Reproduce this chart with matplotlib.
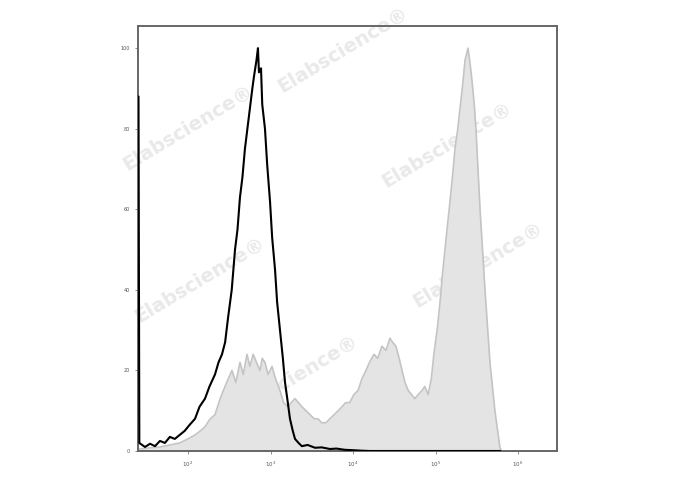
import numpy as np
import matplotlib.pyplot as plt

# histogram traces, x in log10 units (decades), y in % of max
black_x = [1.394, 1.40, 1.41, 1.479, 1.54, 1.60, 1.66, 1.72, 1.78, 1.84, 1.90, 1.96,
           2.02, 2.085, 2.14, 2.206, 2.26, 2.327, 2.37, 2.412, 2.45, 2.485, 2.53,
           2.57, 2.60, 2.63, 2.66, 2.69, 2.72, 2.75, 2.78, 2.80, 2.83, 2.848, 2.86,
           2.885, 2.90, 2.933, 2.96, 2.994, 3.02, 3.055, 3.08, 3.115, 3.15, 3.176,
           3.21, 3.236, 3.27, 3.297, 3.34, 3.38, 3.45, 3.54, 3.62, 3.72, 3.80,
           3.90, 4.00, 4.085, 4.20, 5.78]
black_y = [88, 88, 2, 1, 1.8, 1.2, 2.5, 2, 3.5, 3, 4, 5,
           6.5, 8, 11, 13, 16, 19, 22, 24, 27, 33, 40,
           50, 55, 63, 68, 75, 80, 85, 90, 93, 97, 100, 94,
           95, 86, 80, 71, 62, 53, 45, 37, 30, 23, 17,
           12, 8, 5, 3, 2, 1.2, 1.5, 0.8, 0.9, 0.5, 0.6,
           0.3, 0.2, 0.1, 0, 0]

gray_x = [1.418, 1.54, 1.66, 1.78, 1.90, 2.00, 2.085, 2.15, 2.206, 2.27, 2.327,
          2.39, 2.448, 2.49, 2.533, 2.58, 2.63, 2.67, 2.715, 2.75, 2.79, 2.83,
          2.873, 2.90, 2.933, 2.97, 3.018, 3.06, 3.115, 3.16, 3.21, 3.25, 3.297,
          3.34, 3.38, 3.43, 3.48, 3.53, 3.576, 3.62, 3.67, 3.72, 3.77, 3.82,
          3.867, 3.91, 3.96, 4.01, 4.06, 4.11, 4.157, 4.20, 4.254, 4.30, 4.35,
          4.40, 4.448, 4.48, 4.52, 4.56, 4.594, 4.63, 4.67, 4.71, 4.75, 4.79,
          4.836, 4.87, 4.91, 4.95, 4.98, 5.02, 5.055, 5.085, 5.115, 5.145, 5.176,
          5.21, 5.236, 5.27, 5.297, 5.33, 5.358, 5.394, 5.42, 5.442, 5.47, 5.49,
          5.54, 5.60, 5.66, 5.72, 5.78, 5.80]
gray_y = [0.5, 0.8, 1, 1.5, 2, 3, 4, 5, 6, 8, 9,
          13, 16, 18, 20, 17, 22, 19, 24, 21, 24, 22,
          20, 23, 22, 19, 21, 18, 15, 12, 11, 12, 13,
          12, 11, 10, 9, 8, 8, 7, 7, 8, 9, 10,
          11, 12, 12, 14, 15, 18, 20, 22, 24, 23, 26,
          25, 28, 27, 26, 23, 20, 17, 15, 14, 13, 14,
          15, 16, 14, 18, 24, 30, 37, 44, 50, 56, 62,
          69, 75, 80, 85, 91, 97, 100, 96, 92, 86, 80,
          60, 40, 22, 10, 1, 0]

y_ticks = [0, 20, 40, 60, 80, 100]
x_ticks = [2, 3, 4, 5, 6]
x_labels = ['$10^{%d}$' % d for d in x_ticks]

# watermark positions in pixels of the 688x490 image
marks = [(343, 50), (188, 128), (447, 145), (200, 280), (478, 265), (293, 378)]

W, H = 688, 490
fig = plt.figure(figsize=(W / 100, H / 100), dpi=100)
ax = fig.add_axes([138 / W, 1 - 451 / H, (557 - 138) / W, (451 - 26) / H])

ax.fill_between(gray_x, gray_y, 0, color='#e4e4e4', lw=0, zorder=1)
ax.plot(gray_x, gray_y, color='#c4c4c4', lw=1.2, zorder=2)
ax.plot(black_x, black_y, color='black', lw=1.5, zorder=3)

ax.set_xlim(2 - 50 / 82.5, 6 + 39 / 82.5)
ax.set_ylim(0, 105.5)
ax.set_xticks(x_ticks)
ax.set_xticklabels(x_labels, fontsize=4, color='#555555')
ax.set_yticks(y_ticks)
ax.set_yticklabels([str(v) for v in y_ticks], fontsize=3.5, color='#555555')
ax.tick_params(length=2, width=0.6, color='#777777', pad=4)
for s in ax.spines.values():
    s.set_color('#666666')
    s.set_linewidth(1.4)

# watermark drawn under the traces
for (px, py) in marks:
    ax.text(px / W, 1 - py / H, 'Elabscience\u00ae', transform=fig.transFigure,
            fontsize=14, fontweight='bold', color='#e9e9e9', rotation=31,
            ha='center', va='center', zorder=0.5)

fig.savefig('out.png', dpi=100)
